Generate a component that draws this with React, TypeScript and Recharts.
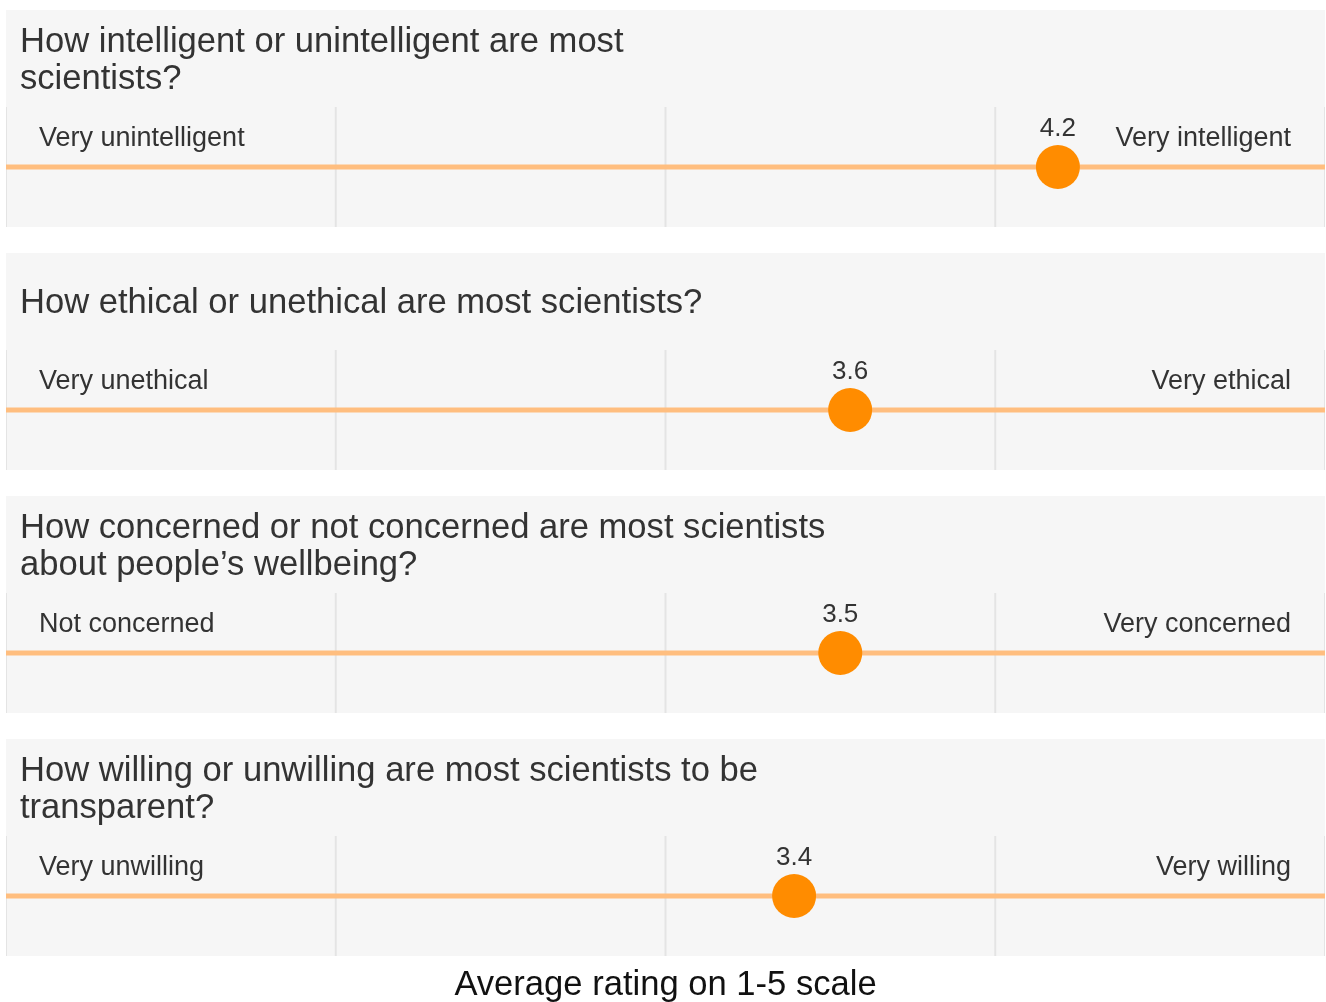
import React from 'react';
import {
    ScatterChart,
    Scatter,
    XAxis,
    YAxis,
    CartesianGrid,
    ReferenceLine,
} from 'recharts';

// question titles (line breaks as in the original)
const titles = [
    'How intelligent or unintelligent are most\nscientists?',
    'How ethical or unethical are most scientists?',
    'How concerned or not concerned are most scientists\nabout people\u2019s wellbeing?',
    'How willing or unwilling are most scientists to be\ntransparent?',
];
const lowLabels = ['Very unintelligent', 'Very unethical', 'Not concerned', 'Very unwilling'];
const highLabels = ['Very intelligent', 'Very ethical', 'Very concerned', 'Very willing'];
const averages = [4.19, 3.56, 3.53, 3.39];
const scaleTicks = [2, 3, 4];

const FONT = '"Liberation Sans", Arial, Helvetica, sans-serif';
const TEXT = '#333333';
const PANEL_W = 1319;
const STRIP_H = 120;

const DotWithValue = (props: any) => {
    const { cx, cy, payload } = props;
    return (
        <g>
            <circle cx={cx} cy={cy} r={22} fill='#ff8c00' />
            <text
                x={cx}
                y={cy - 40}
                textAnchor='middle'
                dominantBaseline='central'
                fontSize={26}
                fontFamily={FONT}
                fill={TEXT}
            >
                {payload.value.toFixed(1)}
            </text>
        </g>
    );
};

const EndLabel = (props: any) => {
    const { cx, cy, payload } = props;
    const isLow = payload.x === 1;
    return (
        <text
            x={isLow ? cx + 33 : cx - 34}
            y={cy}
            textAnchor={isLow ? 'start' : 'end'}
            dominantBaseline='central'
            fontSize={27}
            fontFamily={FONT}
            fill={TEXT}
        >
            {payload.text}
        </text>
    );
};

const Panel = ({ i }: { i: number }) => {
    const dot = [{ x: averages[i], y: 0.5, value: averages[i] }];
    const ends = [
        { x: 1, y: 0.75, text: lowLabels[i] },
        { x: 5, y: 0.75, text: highLabels[i] },
    ];
    return (
        <div
            style={{
                width: PANEL_W,
                height: 217,
                background: '#f6f6f6',
                marginBottom: i < 3 ? 26 : 0,
            }}
        >
            <div
                style={{
                    height: 97,
                    display: 'flex',
                    alignItems: 'center',
                    paddingLeft: 14,
                    fontFamily: FONT,
                    fontSize: 34.6,
                    lineHeight: '37px',
                    color: TEXT,
                    whiteSpace: 'pre-line',
                }}
            >
                {titles[i]}
            </div>
            <ScatterChart
                width={PANEL_W}
                height={STRIP_H}
                margin={{ top: 0, right: 0, bottom: 0, left: 0 }}
            >
                <CartesianGrid
                    horizontal={false}
                    stroke='#e4e4e4'
                    strokeWidth={2}
                />
                <XAxis
                    type='number'
                    dataKey='x'
                    domain={[1, 5]}
                    ticks={scaleTicks}
                    hide
                />
                <YAxis type='number' dataKey='y' domain={[0, 1]} hide />
                <ReferenceLine y={0.5} stroke='#ffbe7f' strokeWidth={5} />
                <Scatter data={ends} shape={EndLabel} isAnimationActive={false} />
                <Scatter data={dot} shape={DotWithValue} isAnimationActive={false} />
            </ScatterChart>
        </div>
    );
};

const App = () => {
    return (
        <div
            style={{
                position: 'fixed',
                left: 6,
                top: 10,
                width: PANEL_W,
                height: 992,
                overflow: 'hidden',
            }}
        >
            {titles.map((_, i) => (
                <Panel key={i} i={i} />
            ))}
            <div
                style={{
                    marginTop: 9,
                    textAlign: 'center',
                    fontFamily: FONT,
                    fontSize: 34.6,
                    lineHeight: '37px',
                    color: '#111111',
                }}
            >
                Average rating on 1-5 scale
            </div>
        </div>
    );
};

export default App;
